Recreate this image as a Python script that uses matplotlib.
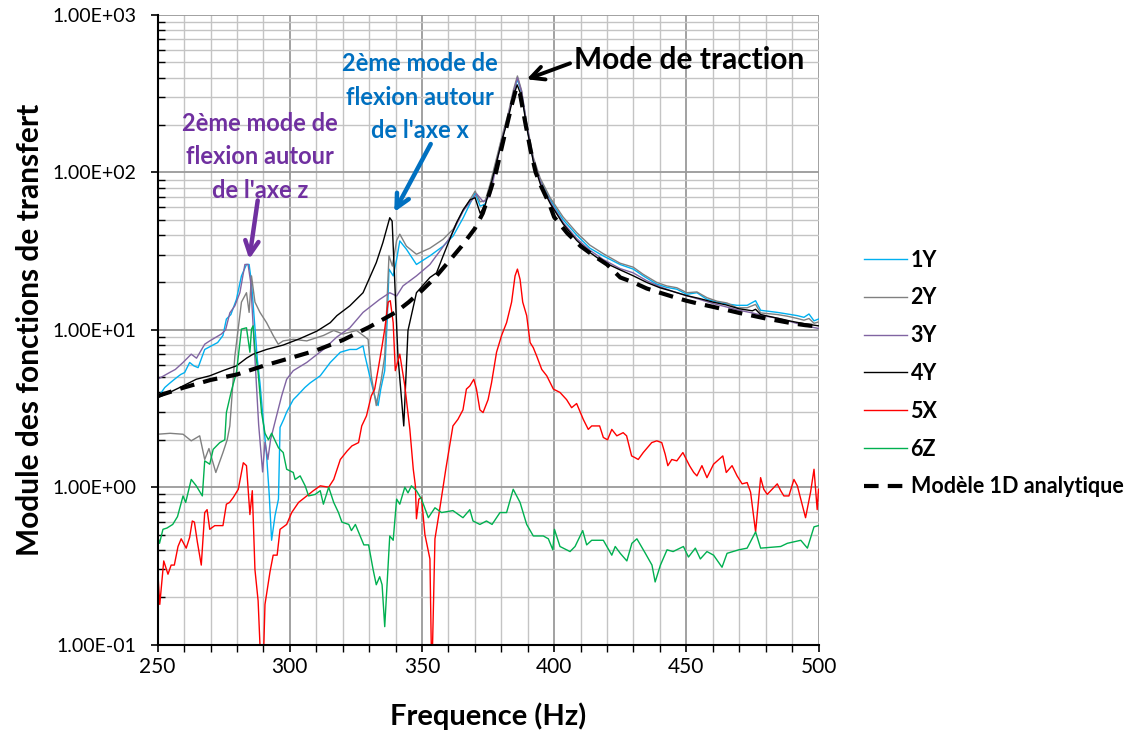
import matplotlib
matplotlib.use("Agg")
import matplotlib.pyplot as plt
from matplotlib.ticker import MultipleLocator, LogLocator, FuncFormatter, NullFormatter

plt.rcParams['font.family'] = ['Lato', 'DejaVu Sans']

# Donnees (frequence en Hz, module)
f_1y = [250, 252.7, 254.7, 256.7, 258.7, 260.2, 262.1, 263.7, 265.3, 267.8, 270.3, 272.7,
        274.7, 276, 277.7, 279.8, 281.7, 283.6, 284.6, 285.5, 286.5, 287.7, 288.7, 290, 291.2,
        292.2, 293.1, 294.4, 295.7, 296.3, 297.7, 298.8, 301.3, 302.7, 305.7, 307.7, 311.5,
        315.3, 319.1, 322.7, 325.2, 327.7, 328.3, 330.2, 332.1, 333.4, 334.4, 335.2, 335.9,
        336.9, 337.5, 339.1, 340.4, 341.6, 344.1, 347.9, 353, 358, 361.8, 365.6, 370.1, 372,
        373.9, 375.8, 378.3, 380.2, 382.7, 384.6, 386.1, 387.7, 389.6, 392.1, 394.7, 398.5,
        403.4, 408.5, 413.5, 418.5, 424.9, 429.9, 433.7, 438.8, 442.6, 446.4, 450.2, 454,
        457.8, 461.6, 465.4, 469.2, 473, 476.2, 478.1, 484.4, 488.2, 492, 494.5, 496.4, 498.3, 500]
v_1y = [3.7, 4.3, 4.6, 4.9, 5.2, 5.35, 6.2, 5.9, 5.75, 7.5, 7.9, 8.3,
        9.2, 11.7, 12.5, 15.6, 22, 26, 26, 20, 12, 6.5, 4.6, 2.6, 1.6,
        0.9, 0.46, 0.66, 0.84, 2.4, 2.7, 3.0, 3.6, 3.8, 4.3, 4.6, 5.1,
        6.2, 7.2, 7.5, 7.5, 7.9, 7.0, 5.1, 3.8, 3.3, 4.2, 4.85, 5.5,
        12, 24.3, 22, 28, 36.7, 32.5, 26, 29.5, 34, 39.5, 51.5, 74, 61,
        63, 81, 120, 162, 230, 320, 390, 320, 198, 120, 89, 67,
        50, 40, 33, 29.5, 26, 24.3, 22, 19.5, 18.6, 18.1, 16.8, 17.2,
        15.6, 15, 14.6, 14.3, 14.3, 15.3, 13.3, 12.9, 12.6, 12.3, 12, 12.6, 11.4, 11.7]

f_2y = [250, 254.7, 259.6, 262.7, 265.9, 267.8, 269.4, 272, 274.7, 276.3, 277.3, 279.2,
        281.7, 283.6, 284.6, 285.5, 286.8, 288.7, 291.2, 293.7, 295.6, 297.5, 301.3, 306.4,
        312.7, 316.6, 320.1, 325.2, 327.8, 329.6, 330.8, 332.7, 334.6, 335.9, 337.5, 338.8,
        340.4, 341.6, 344.1, 347.9, 353, 358, 361.8, 365.6, 370.1, 372, 373.9, 375.8, 378.3,
        380.2, 382.7, 384.6, 386.1, 387.7, 389.6, 392.1, 394.7, 398.5, 403.4, 408.5, 413.5,
        418.5, 424.9, 429.9, 433.7, 438.8, 442.6, 446.4, 450.2, 454, 457.8, 461.6, 465.4,
        469.2, 473, 476.2, 478.1, 484.4, 488.2, 492, 494.5, 496.4, 498.3, 500]
v_2y = [2.17, 2.2, 2.17, 1.97, 2.12, 1.5, 1.76, 1.24, 1.66, 2.0, 2.45, 6.8,
        15, 17.2, 12.9, 22, 15, 12.9, 11.1, 9.2, 8.1, 8.5, 8.7, 8.5,
        9.2, 9.9, 9.4, 9.9, 9.2, 8.7, 5.1, 3.3, 4.85, 6.8, 29.5, 25.4,
        37, 40.5, 34, 30.2, 33, 37.6, 43.6, 57, 76, 65, 66, 85, 125,
        168, 240, 335, 410, 330, 205, 125, 92, 69, 52, 41.5, 34.5,
        30.5, 26.5, 25, 22.5, 20, 19, 18.5, 17.2, 17.4, 16, 15.2, 14.8,
        13.8, 13.8, 14.5, 12.8, 12.5, 12.2, 11.8, 11.5, 11.8, 11, 11.2]

f_3y = [250, 254.5, 256.7, 259.6, 262.7, 264.7, 267.8, 269.7, 274.1, 275.7, 277.3, 279.2,
        281.1, 283, 284.2, 285.2, 286.2, 287.2, 288.2, 289.7, 290.6, 291.7, 292.7, 294.4,
        296.9, 298.8, 301.3, 306.4, 312.7, 317.8, 322.7, 327.7, 334, 337.8, 340.4, 342.8,
        347.9, 353, 355.4, 360.6, 365.6, 370.7, 373.2, 375.8, 378.3, 380.2, 382.7, 384.6,
        386.1, 387.7, 389.6, 392.1, 394.7, 398.5, 403.4, 408.5, 413.5, 418.5, 424.9, 429.9,
        435, 440, 445, 450, 455, 460, 465, 470, 475, 480, 485, 490, 495, 500]
v_3y = [4.85, 5.35, 5.6, 6.2, 7.0, 6.6, 8.1, 8.5, 9.4, 10, 12.8, 14.2,
        17.2, 26, 26, 20, 10, 5, 2.5, 1.25, 1.93, 1.5, 2.0, 2.6,
        3.8, 4.85, 5.5, 6.2, 7.5, 9.0, 10.3, 12.9, 15.6, 17.2, 16.4, 19,
        22, 26, 29.5, 38.5, 57, 73, 65, 71, 116, 160, 230, 320,
        400, 325, 200, 120, 88, 65, 48, 38, 32, 28, 24.5, 23,
        20.5, 18.8, 17.5, 16.5, 15.6, 14.7, 14, 13.3, 12.8, 12.2, 11.8, 11.2, 10.6, 10.2]

f_4y = [250, 254.5, 259.6, 264.6, 269.7, 274.7, 279.8, 283.6, 286.1, 291.2, 297.5, 303.9,
        310.2, 315.3, 317.8, 322.7, 327.7, 332.7, 335.2, 337.8, 338.7, 339.7, 340.9, 343.1,
        344.7, 347.9, 353, 355.5, 358, 360.6, 363.1, 365.6, 368.2, 370.1, 372, 373.9, 375.8,
        378.3, 380.2, 382.7, 384.6, 386, 387.8, 389.7, 392.2, 394.8, 398.6, 403.4, 408.5,
        413.5, 418.5, 425, 430, 435, 440, 445, 450, 455, 460, 465, 470, 475, 476.2, 478.1,
        480, 485, 490, 495, 500]
v_4y = [3.7, 4.0, 4.4, 4.85, 5.1, 5.5, 5.9, 6.6, 7.0, 7.5, 8.0, 8.8,
        9.8, 11.1, 12.3, 14.2, 17.2, 26.7, 35.8, 51.5, 49, 20, 6.8, 2.45,
        9.9, 17.2, 21.5, 23, 29.5, 38, 48, 58, 67, 69, 55, 62, 80,
        118, 158, 225, 305, 360, 300, 190, 115, 84, 63, 47, 37,
        31, 27, 24, 22, 20, 18.5, 17.5, 16.5, 15.8, 15, 14.4, 13.6, 13.2, 13.5, 12.5,
        12.3, 11.8, 11.3, 10.9, 10.6]

f_5x = [250, 250.8, 252.3, 253.9, 255.1, 256.3, 257.7, 258.9, 260.8, 262.1, 263.1, 263.9,
        265, 266.5, 267.8, 268.7, 269.7, 271.6, 274.7, 276, 277.2, 278.6, 280.5, 282.4,
        283.6, 284.9, 285.8, 286.8, 288, 288.7, 289.3, 290, 290.6, 292.5, 293.7, 295.2,
        296.3, 298.8, 300.7, 303.3, 306.4, 308.9, 311.5, 314.7, 316.6, 319.1, 321.7, 323.5,
        326, 327.2, 329, 330.8, 332.1, 333.4, 334.9, 335.9, 337.2, 338, 339.1, 339.9, 341.6,
        343.5, 345.4, 346.7, 347.5, 347.9, 348.8, 349.8, 351.1, 353, 353.7, 354.9, 356.5,
        359, 361.7, 363.6, 365.5, 366.8, 368.1, 369.6, 370.6, 371.9, 373.1, 375, 376.3,
        378.2, 380.1, 382, 383.9, 385.2, 386.1, 387.1, 388.1, 389.6, 390.9, 392.1, 393.4,
        395.3, 397.2, 399.7, 402.2, 404.7, 406.6, 408.5, 411, 412.9, 414.2, 417.2, 418.6,
        420.2, 421.8, 423.7, 426.1, 427.4, 429.3, 430.6, 431.8, 433.7, 436.9, 438.8, 440.7,
        442, 443, 444.5, 446.4, 448.7, 451.2, 452.8, 454, 455.9, 457.8, 460.3, 463.8, 465.1,
        467.3, 469.2, 471.1, 473, 474.3, 476.2, 478.1, 479.3, 480.6, 484.4, 485.7, 486.9,
        488.8, 490.7, 492, 495.1, 497, 498.3, 499.5, 500]
v_5x = [0.3, 0.18, 0.34, 0.28, 0.32, 0.32, 0.42, 0.47, 0.41, 0.48, 0.61, 0.6,
        0.45, 0.32, 0.69, 0.72, 0.54, 0.57, 0.57, 0.78, 0.8, 0.86, 0.97, 1.43,
        1.37, 0.67, 0.95, 0.3, 0.19, 0.1, 0.06, 0.08, 0.18, 0.29, 0.37, 0.37,
        0.54, 0.58, 0.69, 0.8, 0.88, 0.95, 1.02, 1.0, 1.12, 1.5, 1.7, 1.83,
        1.92, 2.45, 2.84, 3.8, 4.2, 5.6, 7.9, 10.1, 15, 15.3, 11.1, 5.5, 7.0,
        4.4, 2.33, 1.3, 1.02, 0.63, 0.84, 0.86, 0.5, 0.35, 0.06, 0.47, 0.69,
        1.3, 2.45, 2.7, 3.1, 4.2, 4.4, 4.85, 4.2, 3.1, 2.98, 3.6, 4.6,
        7.2, 9.2, 11.1, 15, 22, 24.3, 20.9, 15, 12.3, 8.3, 7.7, 6.8,
        5.6, 5.1, 4.2, 4.0, 3.6, 3.2, 3.4, 2.7, 2.33, 2.45, 2.45, 2.07,
        2.0, 2.33, 2.12, 2.22, 2.12, 1.58, 1.54, 1.5, 1.66, 1.92, 1.97, 1.92,
        1.62, 1.37, 1.5, 1.47, 1.66, 1.37, 1.24, 1.18, 1.37, 1.15, 1.4, 1.58, 1.24,
        1.37, 1.18, 1.05, 1.07, 0.93, 0.52, 1.15, 0.97, 0.9, 1.05, 0.95, 0.88,
        0.88, 1.12, 1.02, 0.64, 0.93, 1.3, 0.72, 0.97]

f_6z = [250, 250.7, 252, 253.5, 255.7, 257.5, 259.6, 260.6, 262.7, 264.6, 266.9, 267.8,
        269.7, 271, 273.5, 275.4, 276, 277.9, 279.8, 281.7, 283.6, 284.9, 285.5, 286.1,
        286.8, 288, 289.3, 290.6, 291.9, 293.1, 295.7, 297.5, 298.8, 301.3, 302, 303.9,
        305.8, 307.1, 309.6, 311.5, 312.7, 314.7, 316.6, 318.4, 319.7, 322.3, 323.3, 324.8,
        328, 329.8, 331.5, 332.7, 334, 334.9, 335.9, 337.8, 339.1, 340.4, 341.6, 343.5,
        344.7, 346, 347.9, 349.8, 352.4, 354.9, 357.4, 361.7, 365.5, 368.1, 369.3, 371.9,
        374.4, 376.5, 379.5, 382, 384.5, 387.1, 389.6, 392.1, 395.9, 397.8, 399.5, 400.1,
        402.2, 406, 407.9, 410.8, 412.3, 414.2, 418.6, 421.8, 423.1, 425, 427.5, 429.4,
        431.3, 434.5, 437, 438.2, 440.2, 442.7, 445, 448.9, 450.8, 453.4, 455.3, 457.8,
        460.3, 463.5, 465.4, 469.8, 473, 476.2, 478.1, 485.7, 488.2, 493.3, 495.8, 498.3, 500]
v_6z = [0.49, 0.44, 0.54, 0.55, 0.58, 0.65, 0.88, 0.8, 1.12, 1.02, 0.88, 1.47,
        1.4, 1.74, 1.92, 2.0, 2.98, 4.1, 5.35, 10.1, 10.3, 7.2, 10.1, 10.6,
        7.5, 5.35, 2.98, 2.2, 2.0, 2.2, 1.78, 1.66, 1.3, 1.24, 1.12, 1.18,
        1.02, 0.88, 0.9, 0.95, 0.78, 1.0, 0.8, 0.69, 0.6, 0.58, 0.53, 0.58,
        0.43, 0.43, 0.3, 0.24, 0.27, 0.24, 0.13, 0.49, 0.46, 0.84, 0.78, 1.0,
        0.92, 1.02, 0.95, 0.84, 0.64, 0.74, 0.69, 0.71, 0.64, 0.72, 0.61, 0.58,
        0.61, 0.58, 0.69, 0.69, 0.97, 0.8, 0.58, 0.49, 0.49, 0.47, 0.4, 0.54,
        0.42, 0.39, 0.42, 0.53, 0.43, 0.46, 0.46, 0.37, 0.42, 0.38, 0.34, 0.44,
        0.47, 0.38, 0.32, 0.25, 0.32, 0.4, 0.39, 0.42, 0.36, 0.41, 0.35, 0.39,
        0.37, 0.31, 0.38, 0.4, 0.41, 0.52, 0.41, 0.42, 0.44, 0.46, 0.41, 0.56, 0.57]

# Modele 1D analytique
f_1d = [250, 260, 270, 280, 290, 300, 310, 320, 330, 340, 345, 350, 355, 360, 365, 370,
        373, 376, 378, 380, 382, 384, 385.7, 387, 389, 391, 393, 395, 398, 400, 405, 410,
        415, 420, 425, 430, 435, 440, 445, 450, 455, 460, 465, 470, 475, 480, 485, 490, 495, 500]
v_1d = [3.8, 4.3, 4.8, 5.2, 5.9, 6.6, 7.4, 8.6, 10.4, 12.9, 15, 17.8, 21.5, 27, 34, 44,
        55, 78, 100, 140, 195, 270, 345, 320, 210, 140, 100, 82, 64, 52, 41, 34,
        29.5, 26, 21.5, 20, 18.3, 17.2, 16.2, 15.3, 14.6, 14, 13.4, 12.8, 12.3, 11.8, 11.4, 11.0, 10.7, 10.5]

labels = ["1Y", "2Y", "3Y", "4Y", "5X", "6Z", "Modèle 1D analytique"]
colors = ["#00B0F0", "#808080", "#8064A2", "#000000", "#FF0000", "#00B050"]

fig = plt.figure(figsize=(11.31, 7.31), dpi=100)
ax = fig.add_axes([0.1394, 0.1182, 0.5843, 0.8613])

series = [(f_1y, v_1y), (f_2y, v_2y), (f_3y, v_3y), (f_4y, v_4y), (f_5x, v_5x), (f_6z, v_6z)]
for (f, v), lab, col in zip(series, labels, colors):
    ax.plot(f, v, color=col, lw=1.0, label=lab)
ax.plot(f_1d, v_1d, color="black", lw=3, dashes=(3.5, 2.2), label=labels[6])

ax.set_yscale("log")
ax.set_xlim(250, 500)
ax.set_ylim(0.1, 1000)

# Grille
ax.xaxis.set_major_locator(MultipleLocator(50))
ax.xaxis.set_minor_locator(MultipleLocator(10))
ax.yaxis.set_major_locator(LogLocator(base=10))
ax.yaxis.set_minor_locator(LogLocator(base=10, subs=range(2, 10)))
ax.yaxis.set_minor_formatter(NullFormatter())
ax.yaxis.set_major_formatter(FuncFormatter(lambda v, p: f"{v:.2E}"))
ax.grid(which="major", color="#9a9a9a", lw=1.3)
ax.grid(which="minor", color="#c4c4c4", lw=1.0)
ax.set_axisbelow(True)

for s in ["top", "right"]:
    ax.spines[s].set_visible(False)
for s in ["left", "bottom"]:
    ax.spines[s].set_linewidth(1.5)

ax.tick_params(axis="y", which="major", labelsize=14, length=5, width=1.2, pad=10)
ax.tick_params(axis="x", which="major", labelsize=15, length=5, width=1.2, pad=4)
ax.tick_params(axis="x", which="minor", length=5, width=1.0)
ax.tick_params(axis="y", which="minor", direction="in", length=5, width=1.0)

ax.set_xlabel("Frequence (Hz)", fontsize=21, fontweight="bold", labelpad=18)
ax.set_ylabel("Module des fonctions de transfert", fontsize=21.5, fontweight="bold", labelpad=6)

# Annotations
ax.text(451, 520, "Mode de traction", fontsize=21.5, fontweight="bold", ha="center", va="center")
ax.annotate("", xy=(388.6, 385), xytext=(407, 500),
            arrowprops=dict(arrowstyle="->", lw=2.8, color="black", mutation_scale=24))

ax.text(349.3, 300, "2ème mode de\nflexion autour\nde l'axe x", fontsize=17, fontweight="bold",
        color="#0070C0", ha="center", va="center", linespacing=1.55)
ax.annotate("", xy=(339, 54), xytext=(353.8, 157),
            arrowprops=dict(arrowstyle="->", lw=3.2, color="#0070C0", mutation_scale=24))

ax.text(288.7, 126, "2ème mode de\nflexion autour\nde l'axe z", fontsize=17, fontweight="bold",
        color="#7030A0", ha="center", va="center", linespacing=1.55)
ax.annotate("", xy=(284.5, 27), xytext=(288, 69),
            arrowprops=dict(arrowstyle="->", lw=3.2, color="#7030A0", mutation_scale=24))

leg = ax.legend(loc="upper left", bbox_to_anchor=(0.747, 0.685), bbox_transform=fig.transFigure,
                frameon=False, handlelength=2.0, handletextpad=0.15, labelspacing=0.78,
                prop={"weight": "bold", "size": 15.5})

plt.savefig("out.png", dpi=100)
plt.close()
